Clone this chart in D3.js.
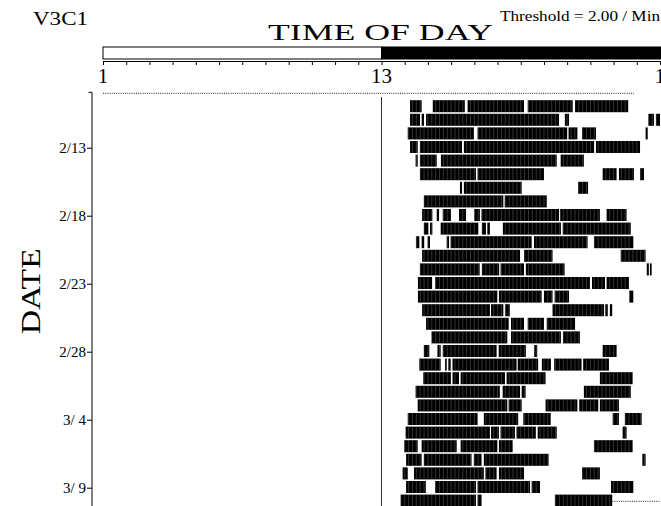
<!DOCTYPE html>
<html>
<head>
<meta charset="utf-8">
<script src="https://cdn.jsdelivr.net/npm/d3@7"></script>
<style>
  html, body { margin: 0; padding: 0; background: #fff; }
  svg { display: block; }
  text { font-family: "Liberation Serif", "Times New Roman", serif; fill: #000; }
</style>
</head>
<body>
<svg id="chart" width="661" height="506"></svg>
<script>
// Actogram: activity bouts above threshold, one row per day, clock hours 1 → 1 (next day)
const subjectId = "V3C1";
const thresholdLabel = "Threshold = 2.00 / Min";
const axisTitle = "TIME OF DAY";
const dateTitle = "DATE";

const firstDay = new Date(2012, 1, 9);     // row 0 (recording starts late this day)
const dayCount = 30;                        // rows 1..30 hold activity
const hourTicks = d3.range(1, 26);
const hourLabels = [[1, "1"], [13, "13"], [25, "1"]];
const lightsOff = 13;                       // dark phase begins at 13:00
const dateTickRows = [4, 9, 14, 19, 24, 29];
const recordStart = 23.88;                  // clock hour on row 0 where recording begins
const recordEnd = 22.94;                    // clock hour on the last row where recording stops

// Activity bouts [start, end] in clock hours, one list per day (2/10 … 3/10)
const activity = [
  [[14.23,14.73],[15.21,16.59],[16.71,19.14],[19.30,21.24],[21.34,23.63]],
  [[14.23,14.66],[14.73,14.83],[14.92,20.65],[20.90,21.08],[24.50,24.74],[24.83,25.00]],
  [[14.13,16.98],[17.14,21.00],[21.06,21.44],[21.64,22.24],[24.38,24.47]],
  [[14.23,14.56],[14.66,16.47],[16.55,22.16],[22.24,24.14]],
  [[14.47,14.56],[14.66,15.38],[15.56,20.55],[20.72,21.72]],
  [[14.66,17.07],[17.14,20.00],[22.53,23.13],[23.23,23.88],[24.14,24.31]],
  [[16.38,16.47],[16.55,19.04],[21.47,21.90]],
  [[14.83,18.25],[18.31,20.12]],
  [[14.75,15.19],[15.38,15.48],[15.64,15.99],[16.34,16.64],[17.00,17.24],[17.31,20.65],[20.70,22.41],[22.70,23.56]],
  [[14.83,15.02],[15.09,15.19],[15.55,17.17],[17.33,17.50],[17.56,17.67],[18.23,20.73],[20.81,23.74]],
  [[14.49,14.63],[14.73,14.84],[14.99,15.09],[15.81,15.91],[15.98,19.47],[19.57,21.88],[22.16,23.85]],
  [[14.75,18.97],[19.14,20.37],[23.31,24.38]],
  [[14.66,17.23],[17.33,18.07],[18.13,19.14],[19.22,20.89],[24.43,24.53],[24.57,24.64]],
  [[14.57,15.18],[15.31,21.98],[22.07,22.63],[22.70,23.66]],
  [[14.57,17.99],[18.06,19.90],[20.00,20.37],[20.46,21.08],[23.68,23.85]],
  [[14.75,17.67],[17.72,18.25],[18.33,18.53],[20.37,22.59],[22.64,22.75],[22.84,22.94]],
  [[14.92,18.48],[18.58,19.14],[19.30,20.00],[20.12,21.34]],
  [[15.16,18.42],[18.58,20.73],[20.82,21.55]],
  [[14.83,15.06],[15.41,15.55],[15.64,17.96],[18.05,19.22],[19.58,19.71],[22.53,23.13]],
  [[14.63,15.55],[15.74,15.81],[15.88,15.98],[16.06,18.82],[18.87,19.75],[19.91,20.30],[20.44,21.62],[21.69,22.80]],
  [[14.80,15.99],[16.06,16.34],[16.41,18.32],[18.39,20.07],[22.41,23.82]],
  [[14.47,18.10],[18.22,18.97],[19.04,19.21],[21.72,23.74]],
  [[14.56,18.42],[18.48,19.04],[20.07,21.44],[21.52,22.34],[22.41,23.23]],
  [[14.13,17.14],[17.41,18.89],[19.11,20.29],[22.96,23.23],[23.49,24.21]],
  [[14.04,17.67],[17.72,18.06],[18.13,18.75],[18.82,19.65],[19.73,20.55],[23.39,23.56]],
  [[13.98,14.56],[14.73,16.24],[16.41,17.99],[18.06,18.65],[22.16,23.82]],
  [[14.06,14.73],[14.83,16.88],[16.98,17.31],[17.41,20.20],[24.24,24.38]],
  [[13.91,14.13],[14.40,17.41],[17.48,17.96],[18.06,19.14],[21.64,22.41]],
  [[14.06,14.91],[15.31,17.07],[17.14,19.40],[19.47,19.83],[22.89,23.85]],
  [[13.83,17.07],[17.14,17.31],[20.47,22.94]]
];

const svg = d3.select("#chart");
const x = d3.scaleLinear().domain([1, 25]).range([103, 660]);
const y = d3.scaleLinear().domain([0, dayCount]).range([93.3, 501.3]);
const dateOf = i => d3.timeDay.offset(firstDay, i);
const fmtDate = d3.timeFormat("%-m/%e");
const barH = 12;

// Header texts
svg.append("text").attr("x", 33).attr("y", 25).attr("font-size", 19)
  .attr("textLength", 55).attr("lengthAdjust", "spacingAndGlyphs").text(subjectId);
svg.append("text").attr("x", 268).attr("y", 40).attr("font-size", 23)
  .attr("textLength", 225).attr("lengthAdjust", "spacingAndGlyphs").text(axisTitle);
svg.append("text").attr("x", 500).attr("y", 21).attr("font-size", 14)
  .attr("textLength", 160).attr("lengthAdjust", "spacingAndGlyphs").text(thresholdLabel);

// Light/dark bar
svg.append("rect").attr("x", x(1)).attr("y", 47).attr("width", x(lightsOff) - x(1)).attr("height", 12)
  .attr("fill", "#fff").attr("stroke", "#000").attr("stroke-width", 1);
svg.append("rect").attr("x", x(lightsOff)).attr("y", 47).attr("width", x(25) - x(lightsOff) + 6).attr("height", 12)
  .attr("fill", "#000").attr("stroke", "#000").attr("stroke-width", 1);

// Hour axis
const hourAxis = d3.axisBottom(x).tickValues(hourTicks).tickSize(4).tickSizeOuter(0).tickFormat("");
const gx = svg.append("g").attr("transform", "translate(0,61)").call(hourAxis);
gx.select(".domain").attr("stroke", "#000");
gx.selectAll(".tick line").attr("stroke", "#000");
svg.selectAll("text.hour").data(hourLabels).join("text").attr("class", "hour")
  .attr("x", d => x(d[0])).attr("y", 83).attr("text-anchor", "middle").attr("font-size", 21)
  .text(d => d[1]);

// Date axis
const dateAxis = d3.axisLeft(y).tickValues(dateTickRows).tickSize(5).tickPadding(1)
  .tickFormat(i => fmtDate(dateOf(i)));
const gy = svg.append("g").attr("transform", "translate(92,0)").call(dateAxis);
gy.select(".domain").remove();
gy.selectAll(".tick line").attr("stroke", "#000");
gy.selectAll(".tick text").attr("font-size", 15).attr("font-family", "Liberation Serif, serif")
  .style("white-space", "pre");
svg.append("line").attr("x1", 92).attr("x2", 92).attr("y1", y(0) - 1).attr("y2", 506).attr("stroke", "#000");
svg.append("line").attr("x1", 88.5).attr("x2", 92).attr("y1", y(0) - 1).attr("y2", y(0) - 1).attr("stroke", "#000");

svg.append("text").attr("transform", `translate(40,${y(15) - 6}) rotate(-90)`)
  .attr("text-anchor", "middle").attr("font-size", 27)
  .attr("textLength", 86).attr("lengthAdjust", "spacingAndGlyphs").text(dateTitle);

// Lights-off reference line
svg.append("line").attr("x1", x(lightsOff)).attr("x2", x(lightsOff)).attr("y1", 97).attr("y2", 506)
  .attr("stroke", "#333").attr("stroke-width", 1);

// No-recording spans as dotted lines
const gaps = [[0, 1, recordStart], [dayCount, recordEnd, 25]];
svg.selectAll("line.gap").data(gaps).join("line").attr("class", "gap")
  .attr("x1", d => x(d[1])).attr("x2", d => x(d[2]))
  .attr("y1", d => y(d[0])).attr("y2", d => y(d[0]))
  .attr("stroke", "#222").attr("stroke-width", 1).attr("stroke-dasharray", "1,1.2");

// Activity bouts
const bouts = activity.flatMap((row, i) => row.map(b => ({ day: i + 1, s: b[0], e: b[1] })));
const gb = svg.append("g");
gb.selectAll("rect").data(bouts).join("rect")
  .attr("x", d => x(d.s)).attr("width", d => x(d.e) - x(d.s))
  .attr("y", d => y(d.day) - 6.7).attr("height", barH).attr("fill", "#000");

// 10-minute bin seams inside each bout
const seams = bouts.flatMap(b => {
  const out = [];
  for (let t = Math.ceil(b.s * 6 + 1e-6) / 6; t < b.e - 0.02; t += 1 / 6) out.push({ day: b.day, t });
  return out;
});
gb.selectAll("line").data(seams).join("line")
  .attr("x1", d => x(d.t)).attr("x2", d => x(d.t))
  .attr("y1", d => y(d.day) - 6.7).attr("y2", d => y(d.day) - 6.7 + barH)
  .attr("stroke", "#666").attr("stroke-width", 0.5);
</script>
</body>
</html>
